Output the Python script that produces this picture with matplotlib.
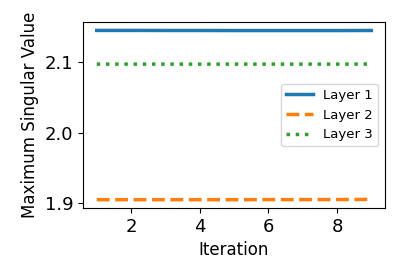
import matplotlib.pyplot as plt
import numpy as np

iterations = [1, 2, 3, 4, 5, 6, 7, 8, 9]
layer1 = [2.1455, 2.1455, 2.1454, 2.1454, 2.1453, 2.1453, 2.1453, 2.1453, 2.1454]
layer2 = [1.9050, 1.9050, 1.9050, 1.9050, 1.9050, 1.9051, 1.9051, 1.9052, 1.9053]
layer3 = [2.0976, 2.0976, 2.0976, 2.0976, 2.0976, 2.0976, 2.0976, 2.0976, 2.0977]

plt.figure(figsize=(4.07, 2.71), dpi=100)
plt.plot(iterations, layer1, '-', linewidth=2.5, label='Layer 1')
plt.plot(iterations, layer2, '--', linewidth=2.5, label='Layer 2')
plt.plot(iterations, layer3, ':', linewidth=2.5, label='Layer 3')

plt.xlabel('Iteration', fontsize=12)
plt.ylabel('Maximum Singular Value', fontsize=12)
plt.xticks([2, 4, 6, 8], fontsize=13)
plt.yticks([1.9, 2.0, 2.1], fontsize=13)

plt.legend(loc='center right', fontsize=9.5)
plt.subplots_adjust(left=0.204, right=0.946, top=0.919, bottom=0.232)
plt.savefig('out.png')
